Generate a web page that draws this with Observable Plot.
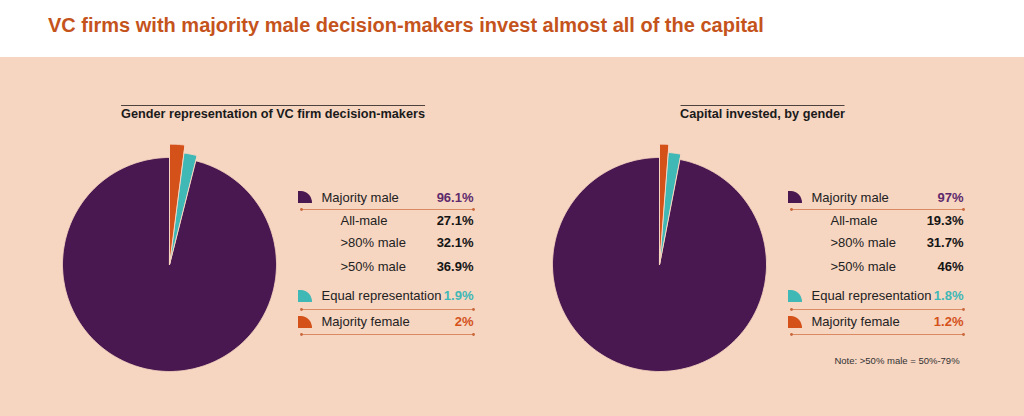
<!DOCTYPE html>
<html><head><meta charset="utf-8">
<script src="https://cdn.jsdelivr.net/npm/d3@7"></script>
<script src="https://cdn.jsdelivr.net/npm/@observablehq/plot@0.6"></script>
<style>
html,body{margin:0;padding:0;background:#fff;}
body{width:1024px;height:416px;position:relative;overflow:hidden;font-family:"Liberation Sans",Arial,sans-serif;}
#title{position:absolute;left:48px;top:14px;font-size:20px;font-weight:bold;color:#c5531c;line-height:22px;white-space:nowrap;}
#panel{position:absolute;left:0;top:57px;width:1024px;height:359px;background:#f6d5c1;}
.abs{position:absolute;white-space:nowrap;}
.sub{font-size:12.7px;font-weight:bold;color:#1a1a1a;line-height:15px;border-top:1.5px solid #4d423e;padding-top:1px;transform:translateX(-50%);}
.lab{font-size:13px;line-height:15px;color:#222;}
.val{font-size:13px;line-height:15px;font-weight:bold;text-align:right;}
.note{font-size:9.5px;line-height:12px;color:#333;transform:translateX(-50%);}
</style></head><body>
<div id="title"></div>
<div id="panel"></div>
<script>
// ---------- data ----------
const titleText = "VC firms with majority male decision-makers invest almost all of the capital";
const panelTitles = ["Gender representation of VC firm decision-makers", "Capital invested, by gender"];
const groups = ["Majority male", "Equal representation", "Majority female"];
const subgroups = ["All-male", ">80% male", ">50% male"];
const decisionMakerShares = [96.1, 1.9, 2];
const decisionMakerSubShares = [27.1, 32.1, 36.9];
const capitalShares = [97, 1.8, 1.2];
const capitalSubShares = [19.3, 31.7, 46];
const noteText = "Note: >50% male = 50%-79%";

// ---------- styles / layout ----------
const bg = "#f6d5c1";
const colors = ["#4a1850", "#3fb8b6", "#d4521a"];
const valueColors = ["#5e2a6c", "#3fb8b6", "#d4521a"];
const pullOut = [1, 1.05, 1.125];
const pieSize = 260, pxPerUnit = 107;
const D = pieSize / 2 / pxPerUnit;
const pieCenters = [[169, 264], [658.5, 264]];
const subtitleCenters = [273, 762.5];
const iconLefts = [298, 788];

document.getElementById("title").textContent = titleText;

function piePoints(shares) {
  const order = [2, 1, 0]; // clockwise from 12 o'clock: female, equal, male
  const arcs = d3.pie().sort(null).value(i => shares[i])(order);
  const pts = [];
  for (const a of [...arcs].sort((p, q) => p.data - q.data)) {
    const r = pullOut[a.data];
    const n = Math.max(2, Math.ceil((a.endAngle - a.startAngle) / (Math.PI / 360)));
    pts.push({group: groups[a.data], x: 0, y: 0});
    for (let k = 0; k <= n; k++) {
      const t = a.startAngle + (a.endAngle - a.startAngle) * k / n;
      pts.push({group: groups[a.data], x: r * Math.sin(t), y: r * Math.cos(t)});
    }
  }
  return pts;
}

function add(html, cls, style) {
  const d = document.createElement("div");
  d.className = "abs " + cls;
  Object.assign(d.style, style);
  d.innerHTML = html;
  document.body.appendChild(d);
  return d;
}
function iconSvg(color) {
  return `<svg width="14" height="12" viewBox="0 0 14 12"><path d="M0,0 L3,0 A11,12 0 0 1 14,12 L0,12 Z" fill="${color}"/></svg>`;
}
function lineSvg(w) {
  return `<svg width="${w + 4}" height="5" viewBox="-2 -2.5 ${w + 4} 5"><line x1="0" y1="0" x2="${w}" y2="0" stroke="#d98a63" stroke-width="1"/><circle cx="0.5" cy="0" r="1.4" fill="#c9663a"/><circle cx="${w - 0.5}" cy="0" r="1.4" fill="#c9663a"/></svg>`;
}

const panels = [
  {shares: decisionMakerShares, subs: decisionMakerSubShares},
  {shares: capitalShares, subs: capitalSubShares}
];

const groupBaselines = [201.7, 300, 326];
const subBaselines = [225, 247.3, 270.7];
const ruleYs = [209.3, 309.3, 334.3];

panels.forEach((p, i) => {
  // pie
  const chart = Plot.plot({
    width: pieSize, height: pieSize, margin: 0,
    x: {domain: [-D, D], axis: null},
    y: {domain: [-D, D], axis: null},
    color: {domain: groups, range: colors},
    style: {background: "transparent", overflow: "visible"},
    marks: [
      Plot.line(piePoints(p.shares), {x: "x", y: "y", z: "group", fill: "group", stroke: bg, strokeWidth: 1, curve: "linear-closed"})
    ]
  });
  chart.style.position = "absolute";
  chart.style.left = (pieCenters[i][0] - pieSize / 2) + "px";
  chart.style.top = (pieCenters[i][1] - pieSize / 2) + "px";
  document.body.appendChild(chart);

  // subtitle
  add(panelTitles[i], "sub", {left: subtitleCenters[i] + "px", top: "105px"});

  // legend
  const L = iconLefts[i];
  const valRight = L + 175.5;
  groups.forEach((g, k) => {
    const b = groupBaselines[k];
    add(iconSvg(colors[k]), "", {left: L + "px", top: (b - 10.5) + "px", lineHeight: "0"});
    add(g, "lab", {left: (L + 23.5) + "px", top: (b - 12) + "px"});
    add(p.shares[k] + "%", "val", {right: (1024 - valRight) + "px", top: (b - 12) + "px", color: valueColors[k]});
    add(lineSvg(173), "", {left: (L + 0.5) + "px", top: (ruleYs[k] - 2.5) + "px", lineHeight: "0"});
  });
  subgroups.forEach((s, k) => {
    const b = subBaselines[k];
    add(s, "lab", {left: (L + 42.5) + "px", top: (b - 12) + "px"});
    add(p.subs[k] + "%", "val", {right: (1024 - valRight) + "px", top: (b - 12) + "px", color: "#141414"});
  });
});

add(noteText, "note", {left: "897px", top: "355px"});
</script>
</body></html>
